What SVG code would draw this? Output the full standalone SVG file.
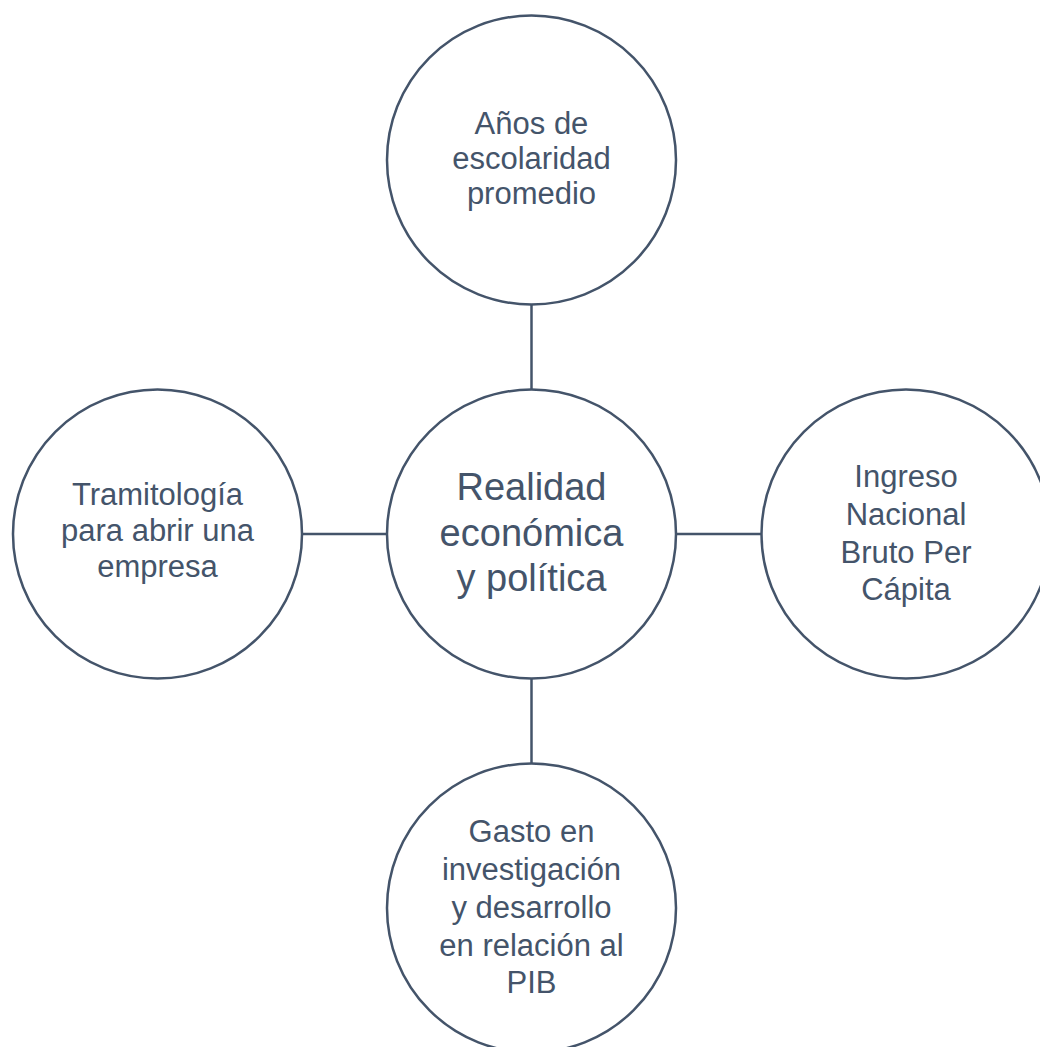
<svg xmlns="http://www.w3.org/2000/svg" width="1040" height="1047" viewBox="0 0 1040 1047">
<style>
.node{fill:#FFFFFF;stroke:#44546A;stroke-width:2.5}
.conn{stroke:#44546A;stroke-width:2.5;fill:none}
.lbl{font-family:"Liberation Sans",Arial,sans-serif;font-size:31px;fill:#44546A;text-anchor:middle}
.big{font-size:38px}
</style>
<rect width="1040" height="1047" fill="#FFFFFF"/>
<g id="connectors">
<line class="conn" x1="531.5" y1="304.5" x2="531.5" y2="389.5"/>
<line class="conn" x1="531.5" y1="678.5" x2="531.5" y2="763.5"/>
<line class="conn" x1="302" y1="534" x2="387" y2="534"/>
<line class="conn" x1="676" y1="534" x2="761.5" y2="534"/>
</g>
<g id="node-center">
<circle class="node" cx="531.5" cy="534" r="144.5"/>
<text class="lbl big" x="531.5" y="500">Realidad</text>
<text class="lbl big" x="531.5" y="546">económica</text>
<text class="lbl big" x="531.5" y="591">y política</text>
</g>
<g id="node-top">
<circle class="node" cx="531.5" cy="160" r="144.5"/>
<text class="lbl" x="531.5" y="134">Años de</text>
<text class="lbl" x="531.5" y="169">escolaridad</text>
<text class="lbl" x="531.5" y="204">promedio</text>
</g>
<g id="node-left">
<circle class="node" cx="157.5" cy="534" r="144.5"/>
<text class="lbl" x="157.5" y="505">Tramitología</text>
<text class="lbl" x="157.5" y="541">para abrir una</text>
<text class="lbl" x="157.5" y="577">empresa</text>
</g>
<g id="node-right">
<circle class="node" cx="906" cy="534" r="144.5"/>
<text class="lbl" x="906" y="487">Ingreso</text>
<text class="lbl" x="906" y="525">Nacional</text>
<text class="lbl" x="906" y="563">Bruto Per</text>
<text class="lbl" x="906" y="600">Cápita</text>
</g>
<g id="node-bottom">
<circle class="node" cx="531.5" cy="908" r="144.5"/>
<text class="lbl" x="531.5" y="842">Gasto en</text>
<text class="lbl" x="531.5" y="880">investigación</text>
<text class="lbl" x="531.5" y="918">y desarrollo</text>
<text class="lbl" x="531.5" y="956">en relación al</text>
<text class="lbl" x="531.5" y="993">PIB</text>
</g>
</svg>
